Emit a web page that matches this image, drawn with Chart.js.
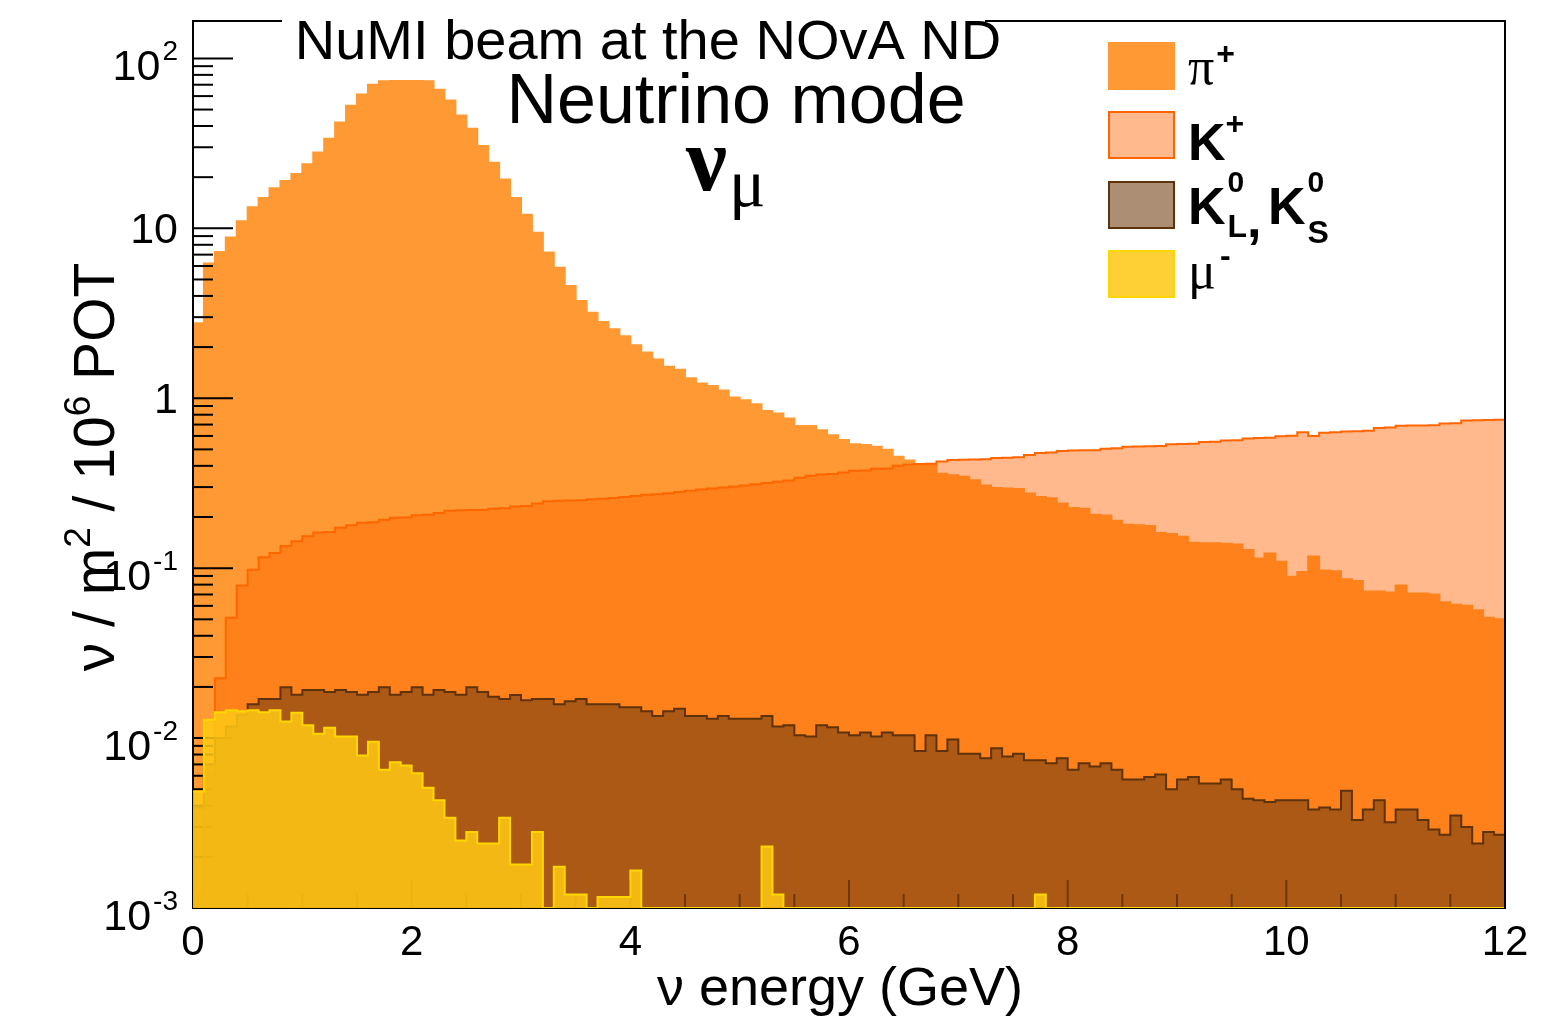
<!DOCTYPE html>
<html>
<head>
<meta charset="utf-8">
<script src="https://cdn.jsdelivr.net/npm/chart.js@4.4.1/dist/chart.umd.min.js"></script>
<style>
  html, body { margin: 0; padding: 0; background: #fff; }
  #wrap { width: 1547px; height: 1016px; position: relative; }
</style>
</head>
<body>
<div id="wrap"><canvas id="fluxChart"></canvas></div>
<script>
// binning: 120 bins of 0.1 GeV
const X_MIN = 0, X_MAX = 12, BIN_WIDTH = 0.1;
const Y_MIN = 1e-3, Y_MAX = 166;

// nu_mu flux by parent, per bin
const piPlus = [
  2.76, 6.2, 7.26, 8.82, 11.0, 13.3, 15.1, 17.2, 19.0, 20.9,
  23.8, 27.9, 33.7, 42.0, 52.7, 61.4, 70.0, 73.3, 73.5, 73.5,
  73.5, 73.3, 65.3, 56.6, 46.2, 38.6, 30.5, 24.3, 19.4, 15.1,
  12.0, 9.42, 7.2, 5.87, 4.58, 3.74, 3.19, 2.81, 2.55, 2.32,
  2.05, 1.86, 1.69, 1.53, 1.47, 1.31, 1.22, 1.18, 1.11, 1.01,
  0.973, 0.922, 0.84, 0.813, 0.76, 0.687, 0.687, 0.648, 0.606, 0.568,
  0.536, 0.53, 0.518, 0.497, 0.453, 0.43, 0.41, 0.405, 0.36, 0.352,
  0.345, 0.329, 0.307, 0.296, 0.294, 0.292, 0.275, 0.262, 0.258, 0.24,
  0.226, 0.224, 0.206, 0.204, 0.19, 0.18, 0.179, 0.177, 0.161, 0.159,
  0.153, 0.141, 0.14, 0.14, 0.139, 0.138, 0.128, 0.114, 0.122, 0.109,
  0.089, 0.095, 0.117, 0.097, 0.096, 0.086, 0.084, 0.073, 0.073, 0.072,
  0.079, 0.071, 0.071, 0.07, 0.063, 0.061, 0.06, 0.0566, 0.051, 0.05
];
const kPlus = [
  0.0012, 0.006, 0.0225, 0.051, 0.079, 0.098, 0.116, 0.123, 0.135, 0.144,
  0.154, 0.162, 0.163, 0.173, 0.179, 0.185, 0.186, 0.193, 0.198, 0.199,
  0.205, 0.206, 0.211, 0.218, 0.219, 0.22, 0.22, 0.224, 0.225, 0.231,
  0.232, 0.24, 0.248, 0.249, 0.25, 0.251, 0.254, 0.256, 0.259, 0.262,
  0.266, 0.27, 0.272, 0.276, 0.281, 0.285, 0.29, 0.294, 0.298, 0.302,
  0.307, 0.312, 0.317, 0.322, 0.328, 0.34, 0.35, 0.356, 0.358, 0.366,
  0.374, 0.376, 0.384, 0.386, 0.4, 0.408, 0.41, 0.412, 0.424, 0.433,
  0.435, 0.436, 0.437, 0.445, 0.447, 0.449, 0.464, 0.476, 0.479, 0.49,
  0.492, 0.494, 0.495, 0.505, 0.507, 0.518, 0.52, 0.521, 0.523, 0.536,
  0.538, 0.54, 0.552, 0.555, 0.564, 0.566, 0.58, 0.583, 0.585, 0.598,
  0.602, 0.63, 0.6, 0.626, 0.63, 0.638, 0.64, 0.643, 0.668, 0.672,
  0.688, 0.69, 0.692, 0.694, 0.71, 0.712, 0.74, 0.742, 0.745, 0.748
];
const kZero = [
  0.0039, 0.007, 0.010, 0.0117, 0.0137, 0.0158, 0.017, 0.017, 0.0199, 0.018,
  0.0192, 0.0192, 0.0187, 0.0192, 0.0187, 0.018, 0.0187, 0.0199, 0.018, 0.0187,
  0.0199, 0.018, 0.0192, 0.0187, 0.018, 0.0199, 0.0187, 0.0175, 0.017, 0.0179,
  0.0167, 0.017, 0.017, 0.0158, 0.0165, 0.017, 0.0158, 0.0158, 0.0158, 0.0152,
  0.0152, 0.0144, 0.0135, 0.0144, 0.0149, 0.0135, 0.0135, 0.013, 0.0135, 0.013,
  0.013, 0.013, 0.0135, 0.0117, 0.0119, 0.0104, 0.0102, 0.0119, 0.0116, 0.0108,
  0.0104, 0.0108, 0.0102, 0.0108, 0.0104, 0.0104, 0.0084, 0.0104, 0.0084, 0.0098,
  0.0081, 0.0081, 0.0076, 0.0087, 0.0078, 0.0081, 0.0074, 0.0074, 0.0071, 0.0076,
  0.0065, 0.0071, 0.0068, 0.0071, 0.0065, 0.0057, 0.0057, 0.0059, 0.0061, 0.005,
  0.0057, 0.0059, 0.0054, 0.0054, 0.0057, 0.005, 0.0044, 0.0043, 0.0042, 0.0043,
  0.0043, 0.0043, 0.0038, 0.0039, 0.0038, 0.0049, 0.0033, 0.0038, 0.0043, 0.0032,
  0.0038, 0.0038, 0.0033, 0.0029, 0.0027, 0.0035, 0.003, 0.0024, 0.0028, 0.0027
];
const muMinus = [
  0.00485, 0.0128, 0.0142, 0.0146, 0.0144, 0.0146, 0.0142, 0.0146, 0.0125, 0.0141,
  0.0119, 0.0106, 0.0115, 0.0102, 0.0102, 0.0079, 0.0095, 0.0065, 0.0072, 0.0069,
  0.0062, 0.0051, 0.0043, 0.0034, 0.0025, 0.0028, 0.0024, 0.0024, 0.0034, 0.0018,
  0.0018, 0.0028, 0, 0.00175, 0.0012, 0.0012, 0, 0.00116, 0.00116, 0.00116,
  0.00166, 0, 0, 0, 0, 0, 0, 0, 0, 0,
  0, 0, 0.0023, 0.0012, 0, 0, 0, 0, 0, 0,
  0, 0, 0, 0, 0, 0, 0, 0, 0, 0,
  0, 0, 0, 0, 0, 0, 0, 0.0012, 0, 0,
  0, 0, 0, 0, 0, 0, 0, 0, 0, 0,
  0, 0, 0, 0, 0, 0, 0, 0, 0, 0,
  0, 0, 0, 0, 0, 0, 0, 0, 0, 0,
  0, 0, 0, 0, 0, 0, 0, 0, 0, 0
];

// axis labels
const xTickValues = [0, 2, 4, 6, 8, 10, 12];
const xTickLabels = ['0', '2', '4', '6', '8', '10', '12'];
const yTickValues = [1e-3, 1e-2, 1e-1, 1, 10, 100];
const yTickBase = ['10', '10', '10', '1', '10', '10'];
const yTickExp = ['-3', '-2', '-1', '', '', '2'];

const SANS = '"Liberation Sans", Arial, Helvetica, sans-serif';
const SERIF = '"Liberation Serif", "Times New Roman", serif';

const PI_FILL = 'rgb(255,153,51)';
const KP_FILL = 'rgba(255,100,0,0.45)';
const KP_LINE = 'rgb(255,102,0)';
const K0_FILL = 'rgba(110,60,15,0.58)';
const K0_LINE = 'rgb(95,50,10)';
const MU_FILL = 'rgba(255,200,20,0.86)';
const MU_LINE = 'rgb(255,215,0)';

const binLow = piPlus.map((_, i) => +(X_MIN + i * BIN_WIDTH).toFixed(2));

// histogram outline: one point per low edge, plus the closing edge
function histPoints(values) {
  const pts = values.map((v, i) => ({ x: binLow[i], y: v > 0 ? v : Y_MIN }));
  pts.push({ x: X_MAX, y: pts[pts.length - 1].y });
  return pts;
}

function histDataset(label, values, fill, line, order) {
  return {
    label: label,
    data: histPoints(values),
    stepped: 'before',
    fill: 'start',
    backgroundColor: fill,
    borderColor: line,
    borderWidth: 2,
    pointRadius: 0,
    order: order,
    clip: 0
  };
}

function drawParts(ctx, parts, x, y, align) {
  let total = 0;
  parts.forEach(p => { ctx.font = p.font; p.w = ctx.measureText(p.t).width; total += p.w + (p.gap || 0); });
  let cx = align === 'right' ? x - total : align === 'center' ? x - total / 2 : x;
  ctx.textAlign = 'left';
  ctx.textBaseline = 'alphabetic';
  parts.forEach(p => {
    ctx.font = p.font;
    ctx.fillText(p.t, cx + (p.gap || 0), y + (p.dy || 0));
    cx += p.w + (p.gap || 0);
  });
}

function line(ctx, x1, y1, x2, y2) {
  ctx.beginPath(); ctx.moveTo(x1, y1); ctx.lineTo(x2, y2); ctx.stroke();
}

// frame + inward ticks, drawn right after the pi+ histogram so the
// patterned histograms sit on top of them
function drawAxes(chart) {
  const { ctx, chartArea: a, scales: { x, y } } = chart;
  ctx.save();
  ctx.strokeStyle = '#000';
  ctx.lineWidth = 2;
  ctx.strokeRect(a.left, a.top, a.right - a.left, a.bottom - a.top);
  for (let d = -3; d <= 2; d++) {
    for (let k = 1; k <= 9; k++) {
      const v = k * Math.pow(10, d);
      if (v > Y_MAX) break;
      const py = y.getPixelForValue(v);
      line(ctx, a.left, py, a.left + (k === 1 ? 40 : 20), py);
    }
  }
  for (let i = 0; i <= 24; i++) {
    const e = i * 0.5;
    const px = x.getPixelForValue(e);
    line(ctx, px, a.bottom, px, a.bottom - (i % 4 === 0 ? 28 : 14));
  }
  ctx.restore();
}

const rootStyle = {
  id: 'rootStyle',
  afterDatasetDraw(chart, args) {
    if (chart.data.datasets[args.index].label === 'pi+') drawAxes(chart);
  },
  afterDatasetsDraw(chart) {
    const { ctx, chartArea: a } = chart;
    ctx.save();
    ctx.strokeStyle = '#000';
    ctx.lineWidth = 2;
    line(ctx, a.right, a.top, a.right, a.bottom);
    line(ctx, a.left, a.top, a.right, a.top);
    ctx.restore();
  },
  afterDraw(chart) {
    const { ctx, scales: { x, y } } = chart;
    ctx.save();
    ctx.fillStyle = '#000';

    // y tick labels
    yTickValues.forEach((v, i) => {
      const py = y.getPixelForValue(v);
      const parts = [{ t: yTickBase[i], font: '43px ' + SANS }];
      if (yTickExp[i]) parts.push({ t: yTickExp[i], font: '28px ' + SANS, dy: -20, gap: 2 });
      drawParts(ctx, parts, 178, py + (yTickExp[i] ? 22 : 15), 'right');
    });

    // x tick labels
    xTickValues.forEach((v, i) => {
      drawParts(ctx, [{ t: xTickLabels[i], font: '42px ' + SANS }], x.getPixelForValue(v), 955, 'center');
    });

    // axis titles
    drawParts(ctx, [{ t: 'ν energy (GeV)', font: '54px ' + SANS }], 840, 1005, 'center');
    ctx.save();
    ctx.translate(114, 467);
    ctx.rotate(-Math.PI / 2);
    drawParts(ctx, [
      { t: 'ν / m', font: '57px ' + SANS },
      { t: '2', font: '37px ' + SANS, dy: -24 },
      { t: ' / 10', font: '57px ' + SANS },
      { t: '6', font: '37px ' + SANS, dy: -24 },
      { t: ' POT', font: '57px ' + SANS }
    ], 0, 0, 'center');
    ctx.restore();

    // title block
    ctx.fillStyle = '#fff';
    ctx.fillRect(282, 0, 703, 45);
    ctx.fillStyle = '#000';
    drawParts(ctx, [{ t: 'NuMI beam at the NOvA ND', font: '56px ' + SANS }], 648, 59, 'center');
    drawParts(ctx, [{ t: 'Neutrino mode', font: '70px ' + SANS }], 736, 123, 'center');
    drawParts(ctx, [
      { t: 'ν', font: 'bold 92px ' + SERIF },
      { t: 'μ', font: '68px ' + SERIF, dy: 16, gap: 2 }
    ], 686, 190, 'left');

    // legend
    const rows = [
      { fill: PI_FILL, line: PI_FILL, top: 42 },
      { fill: KP_FILL, line: KP_LINE, top: 111 },
      { fill: K0_FILL, line: K0_LINE, top: 181 },
      { fill: MU_FILL, line: MU_LINE, top: 250 }
    ];
    rows.forEach(r => {
      ctx.fillStyle = r.fill;
      ctx.fillRect(1108, r.top, 67, 48);
      ctx.strokeStyle = r.line;
      ctx.lineWidth = 2;
      ctx.strokeRect(1109, r.top + 1, 65, 46);
    });
    ctx.fillStyle = '#000';
    drawParts(ctx, [
      { t: 'π', font: '52px ' + SERIF },
      { t: '+', font: 'bold 32px ' + SANS, dy: -20, gap: 2 }
    ], 1188, 84, 'left');
    drawParts(ctx, [
      { t: 'K', font: 'bold 52px ' + SANS },
      { t: '+', font: 'bold 32px ' + SANS, dy: -26 }
    ], 1188, 160, 'left');
    ctx.font = 'bold 52px ' + SANS;
    const kw = ctx.measureText('K').width;
    drawParts(ctx, [{ t: 'K', font: 'bold 52px ' + SANS }], 1188, 224, 'left');
    drawParts(ctx, [{ t: '0', font: 'bold 30px ' + SANS }], 1188 + kw + 2, 192, 'left');
    drawParts(ctx, [{ t: 'L', font: 'bold 32px ' + SANS }, { t: ',', font: 'bold 52px ' + SANS }], 1188 + kw + 2, 237, 'left');
    drawParts(ctx, [{ t: 'K', font: 'bold 52px ' + SANS }], 1268, 224, 'left');
    drawParts(ctx, [{ t: '0', font: 'bold 30px ' + SANS }], 1268 + kw + 2, 192, 'left');
    drawParts(ctx, [{ t: 'S', font: 'bold 32px ' + SANS }], 1268 + kw + 2, 243, 'left');
    drawParts(ctx, [
      { t: 'μ', font: '52px ' + SERIF },
      { t: '-', font: 'bold 32px ' + SANS, dy: -22, gap: 4 }
    ], 1188, 288, 'left');
    ctx.restore();
  }
};

const fluxChart = new Chart(document.getElementById('fluxChart').getContext('2d'), {
  type: 'line',
  data: {
    datasets: [
      histDataset('mu-', muMinus, MU_FILL, MU_LINE, 1),
      histDataset('K0', kZero, K0_FILL, K0_LINE, 2),
      histDataset('K+', kPlus, KP_FILL, KP_LINE, 3),
      histDataset('pi+', piPlus, PI_FILL, PI_FILL, 4)
    ]
  },
  options: {
    responsive: true,
    maintainAspectRatio: false,
    animation: false,
    layout: { padding: { left: 193, top: 21, right: 42, bottom: 108 } },
    plugins: {
      legend: { display: false },
      tooltip: { enabled: false },
      title: { display: false }
    },
    scales: {
      x: { type: 'linear', min: X_MIN, max: X_MAX, display: false },
      y: { type: 'logarithmic', min: Y_MIN, max: Y_MAX, display: false }
    }
  },
  plugins: [rootStyle]
});
</script>
</body>
</html>
